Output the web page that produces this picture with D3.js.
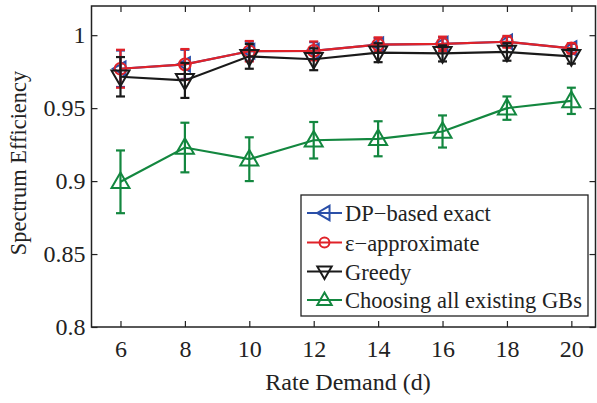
<!DOCTYPE html>
<html><head><meta charset="utf-8">
<script src="https://cdn.jsdelivr.net/npm/d3@7/dist/d3.min.js"></script>
<style>body{margin:0;background:#fff}svg{display:block}</style>
</head><body><svg id="c" width="597" height="403"></svg>
<script>
const demand = [6, 8, 10, 12, 14, 16, 18, 20];
const xTicks = [6, 8, 10, 12, 14, 16, 18, 20];
const yTicks = [0.8, 0.85, 0.9, 0.95, 1];
const seriesNames = ["DP\u2212based exact", "\u03b5\u2212approximate", "Greedy", "Choosing all existing GBs"];
const dpExact = [0.9770, 0.9800, 0.9890, 0.9892, 0.9935, 0.9940, 0.9955, 0.9910];
const dpExactErr = [0.0125, 0.0100, 0.0065, 0.0060, 0.0045, 0.0045, 0.0035, 0.0030];
const epsApprox = [0.9770, 0.9800, 0.9890, 0.9892, 0.9935, 0.9940, 0.9955, 0.9910];
const epsApproxErr = [0.0130, 0.0105, 0.0070, 0.0065, 0.0050, 0.0050, 0.0040, 0.0035];
const greedy = [0.9715, 0.9690, 0.9855, 0.9835, 0.9880, 0.9875, 0.9885, 0.9855];
const greedyErr = [0.0135, 0.0120, 0.0085, 0.0075, 0.0065, 0.0055, 0.0060, 0.0050];
const allGBs = [0.8995, 0.9230, 0.9150, 0.9280, 0.9290, 0.9340, 0.9500, 0.9550];
const allGBsErr = [0.0215, 0.0170, 0.0150, 0.0125, 0.0120, 0.0110, 0.0080, 0.0090];

const FONT = "Liberation Serif";
const svg = d3.select("#c");
const L = 91.5, R = 595.5, T = 6, B = 327;
const x = d3.scaleLinear().domain([5.1, 20.75]).range([L, R]);
const y = d3.scaleLinear().domain([0.8, 1.02]).range([B, T]);

svg.append("rect").attr("x", L).attr("y", T).attr("width", R - L).attr("height", B - T)
  .attr("fill", "#fff").attr("stroke", "#222").attr("stroke-width", 1.5);

function styleAxis(g, noLabels) {
  g.attr("font-family", null).attr("font-size", null);
  g.select(".domain").remove();
  g.selectAll(".tick line").attr("stroke", "#222").attr("stroke-width", 1.2);
  g.selectAll(".tick text").style("font-family", FONT)
    .style("font-size", "24px").attr("fill", "#222");
  if (noLabels) g.selectAll(".tick text").remove();
}
const fmtY = d => (d === 1 ? "1" : String(+d.toFixed(2)));
svg.append("g").attr("transform", `translate(0,${B})`)
  .call(d3.axisBottom(x).tickValues(xTicks).tickSizeInner(-6).tickSizeOuter(0).tickPadding(13))
  .call(g => styleAxis(g, false));
svg.append("g").attr("transform", `translate(0,${T})`)
  .call(d3.axisTop(x).tickValues(xTicks).tickSizeInner(-6).tickSizeOuter(0))
  .call(g => styleAxis(g, true));
svg.append("g").attr("transform", `translate(${L},0)`)
  .call(d3.axisLeft(y).tickValues(yTicks).tickFormat(fmtY).tickSizeInner(-6).tickSizeOuter(0).tickPadding(6))
  .call(g => styleAxis(g, false));
svg.append("g").attr("transform", `translate(${R},0)`)
  .call(d3.axisRight(y).tickValues(yTicks).tickSizeInner(-6).tickSizeOuter(0))
  .call(g => styleAxis(g, true));

svg.append("text").attr("x", 348).attr("y", 390).attr("text-anchor", "middle")
  .style("font-family", FONT).style("font-size", "24px").attr("fill", "#222").text("Rate Demand (d)");
svg.append("text").attr("transform", "translate(26,163) rotate(-90)").attr("text-anchor", "middle")
  .style("font-family", FONT).style("font-size", "22.4px").attr("fill", "#222").text("Spectrum Efficiency");

const series = [
  {name: seriesNames[0], vals: dpExact, err: dpExactErr, color: "#2a4fa8", marker: "left", size: 12},
  {name: seriesNames[1], vals: epsApprox, err: epsApproxErr, color: "#e02229", marker: "circle", size: 13},
  {name: seriesNames[2], vals: greedy, err: greedyErr, color: "#1a1a1a", marker: "down", size: 15},
  {name: seriesNames[3], vals: allGBs, err: allGBsErr, color: "#13873f", marker: "up", size: 15}
];

function markerPath(type, s) {
  if (type === "up") return `M0,${-s*0.62}L${s*0.6},${s*0.42}L${-s*0.6},${s*0.42}Z`;
  if (type === "down") return `M0,${s*0.62}L${s*0.6},${-s*0.42}L${-s*0.6},${-s*0.42}Z`;
  if (type === "left") return `M${-s*0.62},0L${s*0.42},${-s*0.6}L${s*0.42},${s*0.6}Z`;
  return null;
}
function drawMarker(g, type, cx, cy, color, s) {
  if (type === "circle") {
    g.append("circle").attr("cx", cx).attr("cy", cy).attr("r", s * 0.45)
      .attr("fill", "none").attr("stroke", color).attr("stroke-width", 2);
  } else {
    g.append("path").attr("d", markerPath(type, s)).attr("transform", `translate(${cx},${cy})`)
      .attr("fill", "none").attr("stroke", color).attr("stroke-width", 2).attr("stroke-linejoin", "miter");
  }
}

const line = d3.line().x((d, i) => x(demand[i])).y(d => y(d));
series.forEach(s => {
  const g = svg.append("g");
  g.append("path").datum(s.vals).attr("d", line).attr("fill", "none")
    .attr("stroke", s.color).attr("stroke-width", 2.2);
  s.vals.forEach((v, i) => {
    const cx = x(demand[i]);
    const y0 = y(v - s.err[i]), y1 = y(v + s.err[i]);
    g.append("line").attr("x1", cx).attr("x2", cx).attr("y1", y0).attr("y2", y1)
      .attr("stroke", s.color).attr("stroke-width", 2.2);
    [y0, y1].forEach(yy => g.append("line").attr("x1", cx - 4.5).attr("x2", cx + 4.5)
      .attr("y1", yy).attr("y2", yy).attr("stroke", s.color).attr("stroke-width", 2.2));
    drawMarker(g, s.marker, cx, y(v), s.color, s.size);
  });
});

// legend
const lg = svg.append("g");
lg.append("rect").attr("x", 301).attr("y", 195).attr("width", 287).attr("height", 121)
  .attr("fill", "#fff").attr("stroke", "#222").attr("stroke-width", 1.3);
const ly = [213, 242.5, 271.5, 300];
series.forEach((s, i) => {
  lg.append("line").attr("x1", 307).attr("x2", 342).attr("y1", ly[i]).attr("y2", ly[i])
    .attr("stroke", s.color).attr("stroke-width", 2);
  drawMarker(lg, s.marker, 324.5, ly[i], s.color, s.marker === "circle" ? 11 : 12);
  lg.append("text").attr("x", 345).attr("y", ly[i] + 8)
    .style("font-family", FONT).style("font-size", "22.5px").attr("fill", "#222").text(s.name);
});
</script></body></html>
